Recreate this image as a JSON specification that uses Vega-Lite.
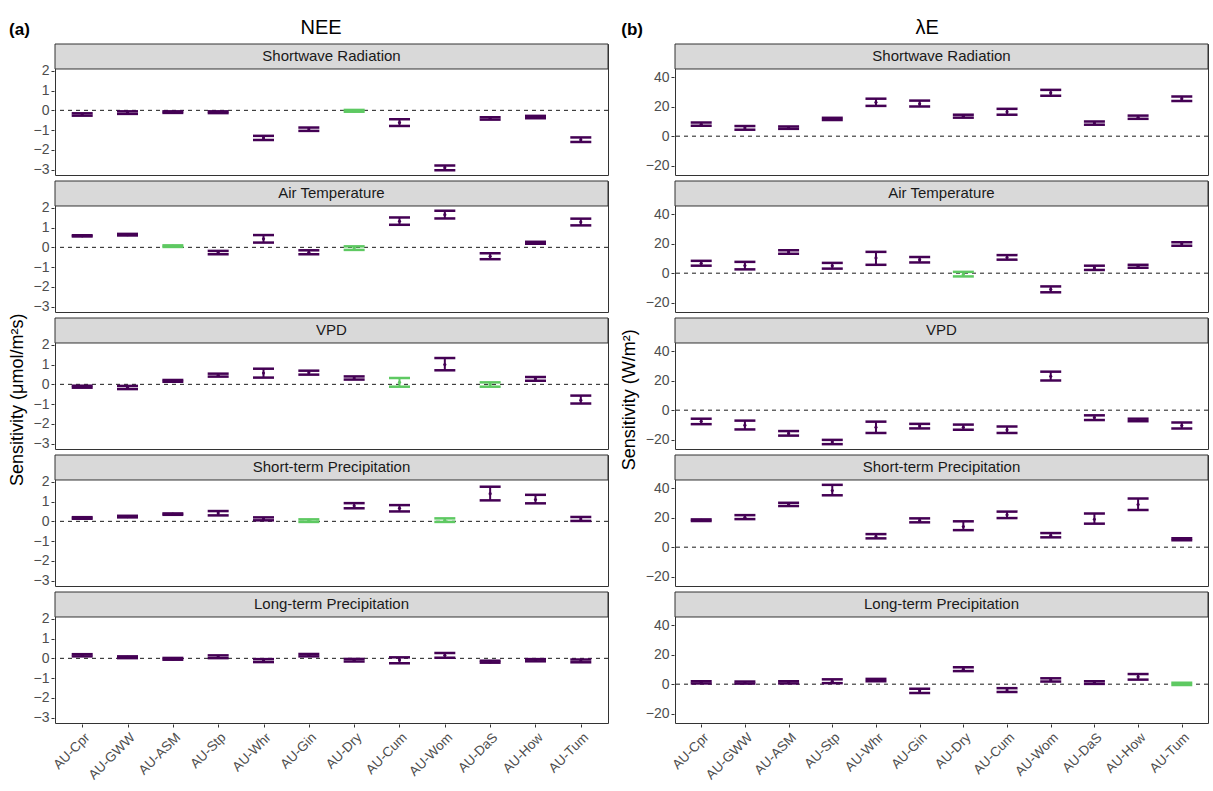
{
"$schema": "https://vega.github.io/schema/vega-lite/v6.json",
"padding": {"left": 9, "top": 18, "right": 2, "bottom": 2},
"background": "white",
"config": {
 "font": "Liberation Sans",
 "view": {"stroke": "#333333", "strokeWidth": 1},
 "axis": {"grid": false, "domain": false, "tickColor": "#333333", "tickSize": 3, "labelColor": "#4d4d4d", "labelFont": "Liberation Sans", "titleFont": "Liberation Sans", "titleFontWeight": "normal", "titleColor": "#000000", "titleFontSize": 18},
 "axisY": {"labelFontSize": 14, "labelPadding": 2},
 "axisX": {"labelFontSize": 13.5, "labelAngle": -45, "labelAlign": "right", "labelBaseline": "top", "labelPadding": 3},
 "title": {"font": "Liberation Sans", "color": "#000000"}
},
"datasets": {
"labels": [
{"d":"SW","lab":"Shortwave Radiation"},
{"d":"AT","lab":"Air Temperature"},
{"d":"VPD","lab":"VPD"},
{"d":"STP","lab":"Short-term Precipitation"},
{"d":"LTP","lab":"Long-term Precipitation"}
],
"sens": [
{"f":"NEE","d":"SW","s":"AU-Cpr","m":-0.21,"lo":-0.27,"hi":-0.15,"g":"sig"},
{"f":"NEE","d":"SW","s":"AU-GWW","m":-0.12,"lo":-0.18,"hi":-0.05,"g":"sig"},
{"f":"NEE","d":"SW","s":"AU-ASM","m":-0.09,"lo":-0.13,"hi":-0.05,"g":"sig"},
{"f":"NEE","d":"SW","s":"AU-Stp","m":-0.10,"lo":-0.14,"hi":-0.05,"g":"sig"},
{"f":"NEE","d":"SW","s":"AU-Whr","m":-1.40,"lo":-1.50,"hi":-1.29,"g":"sig"},
{"f":"NEE","d":"SW","s":"AU-Gin","m":-0.95,"lo":-1.04,"hi":-0.87,"g":"sig"},
{"f":"NEE","d":"SW","s":"AU-Dry","m":-0.03,"lo":-0.07,"hi":0.02,"g":"ns"},
{"f":"NEE","d":"SW","s":"AU-Cum","m":-0.62,"lo":-0.79,"hi":-0.45,"g":"sig"},
{"f":"NEE","d":"SW","s":"AU-Wom","m":-2.90,"lo":-3.03,"hi":-2.79,"g":"sig"},
{"f":"NEE","d":"SW","s":"AU-DaS","m":-0.41,"lo":-0.47,"hi":-0.35,"g":"sig"},
{"f":"NEE","d":"SW","s":"AU-How","m":-0.34,"lo":-0.40,"hi":-0.28,"g":"sig"},
{"f":"NEE","d":"SW","s":"AU-Tum","m":-1.49,"lo":-1.60,"hi":-1.37,"g":"sig"},
{"f":"NEE","d":"AT","s":"AU-Cpr","m":0.58,"lo":0.55,"hi":0.61,"g":"sig"},
{"f":"NEE","d":"AT","s":"AU-GWW","m":0.64,"lo":0.60,"hi":0.68,"g":"sig"},
{"f":"NEE","d":"AT","s":"AU-ASM","m":0.06,"lo":0.02,"hi":0.10,"g":"ns"},
{"f":"NEE","d":"AT","s":"AU-Stp","m":-0.26,"lo":-0.35,"hi":-0.18,"g":"sig"},
{"f":"NEE","d":"AT","s":"AU-Whr","m":0.43,"lo":0.24,"hi":0.62,"g":"sig"},
{"f":"NEE","d":"AT","s":"AU-Gin","m":-0.25,"lo":-0.35,"hi":-0.15,"g":"sig"},
{"f":"NEE","d":"AT","s":"AU-Dry","m":-0.04,"lo":-0.13,"hi":0.05,"g":"ns"},
{"f":"NEE","d":"AT","s":"AU-Cum","m":1.32,"lo":1.14,"hi":1.51,"g":"sig"},
{"f":"NEE","d":"AT","s":"AU-Wom","m":1.65,"lo":1.46,"hi":1.85,"g":"sig"},
{"f":"NEE","d":"AT","s":"AU-DaS","m":-0.45,"lo":-0.60,"hi":-0.30,"g":"sig"},
{"f":"NEE","d":"AT","s":"AU-How","m":0.23,"lo":0.18,"hi":0.28,"g":"sig"},
{"f":"NEE","d":"AT","s":"AU-Tum","m":1.28,"lo":1.11,"hi":1.45,"g":"sig"},
{"f":"NEE","d":"VPD","s":"AU-Cpr","m":-0.12,"lo":-0.17,"hi":-0.07,"g":"sig"},
{"f":"NEE","d":"VPD","s":"AU-GWW","m":-0.16,"lo":-0.24,"hi":-0.08,"g":"sig"},
{"f":"NEE","d":"VPD","s":"AU-ASM","m":0.17,"lo":0.13,"hi":0.22,"g":"sig"},
{"f":"NEE","d":"VPD","s":"AU-Stp","m":0.46,"lo":0.39,"hi":0.54,"g":"sig"},
{"f":"NEE","d":"VPD","s":"AU-Whr","m":0.57,"lo":0.34,"hi":0.79,"g":"sig"},
{"f":"NEE","d":"VPD","s":"AU-Gin","m":0.59,"lo":0.49,"hi":0.69,"g":"sig"},
{"f":"NEE","d":"VPD","s":"AU-Dry","m":0.32,"lo":0.24,"hi":0.40,"g":"sig"},
{"f":"NEE","d":"VPD","s":"AU-Cum","m":0.10,"lo":-0.12,"hi":0.32,"g":"ns"},
{"f":"NEE","d":"VPD","s":"AU-Wom","m":1.00,"lo":0.71,"hi":1.33,"g":"sig"},
{"f":"NEE","d":"VPD","s":"AU-DaS","m":0.00,"lo":-0.12,"hi":0.10,"g":"ns"},
{"f":"NEE","d":"VPD","s":"AU-How","m":0.28,"lo":0.18,"hi":0.37,"g":"sig"},
{"f":"NEE","d":"VPD","s":"AU-Tum","m":-0.80,"lo":-0.97,"hi":-0.57,"g":"sig"},
{"f":"NEE","d":"STP","s":"AU-Cpr","m":0.17,"lo":0.13,"hi":0.21,"g":"sig"},
{"f":"NEE","d":"STP","s":"AU-GWW","m":0.24,"lo":0.20,"hi":0.28,"g":"sig"},
{"f":"NEE","d":"STP","s":"AU-ASM","m":0.37,"lo":0.33,"hi":0.40,"g":"sig"},
{"f":"NEE","d":"STP","s":"AU-Stp","m":0.42,"lo":0.30,"hi":0.52,"g":"sig"},
{"f":"NEE","d":"STP","s":"AU-Whr","m":0.12,"lo":0.05,"hi":0.20,"g":"sig"},
{"f":"NEE","d":"STP","s":"AU-Gin","m":0.05,"lo":-0.03,"hi":0.10,"g":"ns"},
{"f":"NEE","d":"STP","s":"AU-Dry","m":0.79,"lo":0.66,"hi":0.92,"g":"sig"},
{"f":"NEE","d":"STP","s":"AU-Cum","m":0.66,"lo":0.50,"hi":0.82,"g":"sig"},
{"f":"NEE","d":"STP","s":"AU-Wom","m":0.06,"lo":-0.03,"hi":0.15,"g":"ns"},
{"f":"NEE","d":"STP","s":"AU-DaS","m":1.40,"lo":1.06,"hi":1.75,"g":"sig"},
{"f":"NEE","d":"STP","s":"AU-How","m":1.10,"lo":0.91,"hi":1.34,"g":"sig"},
{"f":"NEE","d":"STP","s":"AU-Tum","m":0.12,"lo":0.02,"hi":0.22,"g":"sig"},
{"f":"NEE","d":"LTP","s":"AU-Cpr","m":0.15,"lo":0.10,"hi":0.21,"g":"sig"},
{"f":"NEE","d":"LTP","s":"AU-GWW","m":0.05,"lo":0.01,"hi":0.10,"g":"sig"},
{"f":"NEE","d":"LTP","s":"AU-ASM","m":-0.03,"lo":-0.07,"hi":0.02,"g":"sig"},
{"f":"NEE","d":"LTP","s":"AU-Stp","m":0.08,"lo":0.01,"hi":0.15,"g":"sig"},
{"f":"NEE","d":"LTP","s":"AU-Whr","m":-0.12,"lo":-0.19,"hi":-0.04,"g":"sig"},
{"f":"NEE","d":"LTP","s":"AU-Gin","m":0.16,"lo":0.10,"hi":0.22,"g":"sig"},
{"f":"NEE","d":"LTP","s":"AU-Dry","m":-0.10,"lo":-0.16,"hi":-0.03,"g":"sig"},
{"f":"NEE","d":"LTP","s":"AU-Cum","m":-0.08,"lo":-0.25,"hi":0.05,"g":"sig"},
{"f":"NEE","d":"LTP","s":"AU-Wom","m":0.15,"lo":0.03,"hi":0.27,"g":"sig"},
{"f":"NEE","d":"LTP","s":"AU-DaS","m":-0.18,"lo":-0.22,"hi":-0.12,"g":"sig"},
{"f":"NEE","d":"LTP","s":"AU-How","m":-0.10,"lo":-0.15,"hi":-0.04,"g":"sig"},
{"f":"NEE","d":"LTP","s":"AU-Tum","m":-0.13,"lo":-0.20,"hi":-0.06,"g":"sig"},
{"f":"LE","d":"SW","s":"AU-Cpr","m":8.2,"lo":7.1,"hi":9.3,"g":"sig"},
{"f":"LE","d":"SW","s":"AU-GWW","m":5.6,"lo":4.4,"hi":6.9,"g":"sig"},
{"f":"LE","d":"SW","s":"AU-ASM","m":5.8,"lo":5.0,"hi":6.6,"g":"sig"},
{"f":"LE","d":"SW","s":"AU-Stp","m":11.8,"lo":11.0,"hi":12.5,"g":"sig"},
{"f":"LE","d":"SW","s":"AU-Whr","m":23.0,"lo":20.6,"hi":25.5,"g":"sig"},
{"f":"LE","d":"SW","s":"AU-Gin","m":22.0,"lo":20.2,"hi":24.2,"g":"sig"},
{"f":"LE","d":"SW","s":"AU-Dry","m":13.6,"lo":12.6,"hi":14.6,"g":"sig"},
{"f":"LE","d":"SW","s":"AU-Cum","m":16.6,"lo":14.6,"hi":18.6,"g":"sig"},
{"f":"LE","d":"SW","s":"AU-Wom","m":29.5,"lo":27.5,"hi":31.5,"g":"sig"},
{"f":"LE","d":"SW","s":"AU-DaS","m":8.9,"lo":7.8,"hi":10.0,"g":"sig"},
{"f":"LE","d":"SW","s":"AU-How","m":12.9,"lo":11.8,"hi":14.0,"g":"sig"},
{"f":"LE","d":"SW","s":"AU-Tum","m":25.5,"lo":24.0,"hi":27.0,"g":"sig"},
{"f":"LE","d":"AT","s":"AU-Cpr","m":6.7,"lo":5.1,"hi":8.4,"g":"sig"},
{"f":"LE","d":"AT","s":"AU-GWW","m":5.2,"lo":2.6,"hi":7.7,"g":"sig"},
{"f":"LE","d":"AT","s":"AU-ASM","m":14.4,"lo":13.2,"hi":15.6,"g":"sig"},
{"f":"LE","d":"AT","s":"AU-Stp","m":5.0,"lo":3.1,"hi":7.0,"g":"sig"},
{"f":"LE","d":"AT","s":"AU-Whr","m":10.4,"lo":5.7,"hi":14.5,"g":"sig"},
{"f":"LE","d":"AT","s":"AU-Gin","m":9.2,"lo":7.3,"hi":11.0,"g":"sig"},
{"f":"LE","d":"AT","s":"AU-Dry","m":-0.8,"lo":-2.2,"hi":0.9,"g":"ns"},
{"f":"LE","d":"AT","s":"AU-Cum","m":10.7,"lo":9.2,"hi":12.3,"g":"sig"},
{"f":"LE","d":"AT","s":"AU-Wom","m":-11.0,"lo":-13.0,"hi":-9.0,"g":"sig"},
{"f":"LE","d":"AT","s":"AU-DaS","m":3.6,"lo":2.2,"hi":5.1,"g":"sig"},
{"f":"LE","d":"AT","s":"AU-How","m":4.7,"lo":3.7,"hi":5.7,"g":"sig"},
{"f":"LE","d":"AT","s":"AU-Tum","m":20.0,"lo":18.7,"hi":21.1,"g":"sig"},
{"f":"LE","d":"VPD","s":"AU-Cpr","m":-7.6,"lo":-9.5,"hi":-5.8,"g":"sig"},
{"f":"LE","d":"VPD","s":"AU-GWW","m":-10.2,"lo":-13.1,"hi":-7.1,"g":"sig"},
{"f":"LE","d":"VPD","s":"AU-ASM","m":-15.8,"lo":-17.3,"hi":-14.2,"g":"sig"},
{"f":"LE","d":"VPD","s":"AU-Stp","m":-21.6,"lo":-23.1,"hi":-20.2,"g":"sig"},
{"f":"LE","d":"VPD","s":"AU-Whr","m":-11.6,"lo":-15.5,"hi":-7.8,"g":"sig"},
{"f":"LE","d":"VPD","s":"AU-Gin","m":-10.8,"lo":-12.4,"hi":-9.3,"g":"sig"},
{"f":"LE","d":"VPD","s":"AU-Dry","m":-11.6,"lo":-13.3,"hi":-9.8,"g":"sig"},
{"f":"LE","d":"VPD","s":"AU-Cum","m":-13.3,"lo":-15.5,"hi":-11.1,"g":"sig"},
{"f":"LE","d":"VPD","s":"AU-Wom","m":23.0,"lo":20.2,"hi":26.2,"g":"sig"},
{"f":"LE","d":"VPD","s":"AU-DaS","m":-5.0,"lo":-6.7,"hi":-3.5,"g":"sig"},
{"f":"LE","d":"VPD","s":"AU-How","m":-6.6,"lo":-7.5,"hi":-5.8,"g":"sig"},
{"f":"LE","d":"VPD","s":"AU-Tum","m":-10.4,"lo":-12.4,"hi":-8.4,"g":"sig"},
{"f":"LE","d":"STP","s":"AU-Cpr","m":18.2,"lo":17.8,"hi":18.9,"g":"sig"},
{"f":"LE","d":"STP","s":"AU-GWW","m":20.3,"lo":19.1,"hi":21.8,"g":"sig"},
{"f":"LE","d":"STP","s":"AU-ASM","m":29.0,"lo":28.0,"hi":30.2,"g":"sig"},
{"f":"LE","d":"STP","s":"AU-Stp","m":38.5,"lo":35.3,"hi":42.4,"g":"sig"},
{"f":"LE","d":"STP","s":"AU-Whr","m":7.3,"lo":6.0,"hi":8.9,"g":"sig"},
{"f":"LE","d":"STP","s":"AU-Gin","m":18.2,"lo":16.9,"hi":19.6,"g":"sig"},
{"f":"LE","d":"STP","s":"AU-Dry","m":14.0,"lo":11.6,"hi":17.6,"g":"sig"},
{"f":"LE","d":"STP","s":"AU-Cum","m":22.0,"lo":19.8,"hi":24.2,"g":"sig"},
{"f":"LE","d":"STP","s":"AU-Wom","m":8.0,"lo":6.7,"hi":9.6,"g":"sig"},
{"f":"LE","d":"STP","s":"AU-DaS","m":19.0,"lo":16.0,"hi":22.9,"g":"sig"},
{"f":"LE","d":"STP","s":"AU-How","m":29.0,"lo":25.3,"hi":33.1,"g":"sig"},
{"f":"LE","d":"STP","s":"AU-Tum","m":5.4,"lo":4.7,"hi":6.0,"g":"sig"},
{"f":"LE","d":"LTP","s":"AU-Cpr","m":1.2,"lo":0.5,"hi":2.0,"g":"sig"},
{"f":"LE","d":"LTP","s":"AU-GWW","m":1.0,"lo":0.4,"hi":1.8,"g":"sig"},
{"f":"LE","d":"LTP","s":"AU-ASM","m":1.2,"lo":0.5,"hi":2.0,"g":"sig"},
{"f":"LE","d":"LTP","s":"AU-Stp","m":2.0,"lo":0.7,"hi":3.3,"g":"sig"},
{"f":"LE","d":"LTP","s":"AU-Whr","m":2.8,"lo":2.0,"hi":3.6,"g":"sig"},
{"f":"LE","d":"LTP","s":"AU-Gin","m":-4.5,"lo":-6.0,"hi":-3.1,"g":"sig"},
{"f":"LE","d":"LTP","s":"AU-Dry","m":10.2,"lo":8.9,"hi":11.5,"g":"sig"},
{"f":"LE","d":"LTP","s":"AU-Cum","m":-4.0,"lo":-5.3,"hi":-2.7,"g":"sig"},
{"f":"LE","d":"LTP","s":"AU-Wom","m":2.9,"lo":1.8,"hi":4.0,"g":"sig"},
{"f":"LE","d":"LTP","s":"AU-DaS","m":1.2,"lo":0.2,"hi":2.0,"g":"sig"},
{"f":"LE","d":"LTP","s":"AU-How","m":5.0,"lo":3.1,"hi":6.9,"g":"sig"},
{"f":"LE","d":"LTP","s":"AU-Tum","m":0.2,"lo":-0.6,"hi":0.9,"g":"ns"}
]},
"spacing": 12,
"hconcat": [
{
 "title": {"text": "(a)", "anchor": "start", "frame": "bounds", "fontSize": 17, "fontWeight": "bold", "offset": -21},
 "vconcat": [
 {
  "title": {"text": "Sensitivity (μmol/m²s)", "orient": "left", "anchor": "middle", "fontSize": 18, "fontWeight": "normal", "offset": 6},
  "vconcat": [
  {
   "title": {"text": "NEE", "fontSize": 20, "fontWeight": "normal", "anchor": "middle", "offset": 5},
   "data": {"name": "sens"},
   "transform": [{"filter": "datum.f === 'NEE'"}, {"lookup": "d", "from": {"data": {"name": "labels"}, "key": "d", "fields": ["lab"]}}],
   "facet": {"row": {"field": "d", "type": "nominal", "sort": ["SW", "AT", "VPD", "STP", "LTP"], "header": {"title": null, "labels": false}}},
   "spacing": {"row": 4},
   "spec": {
    "width": 553, "height": 131,
    "layer": [
     {"transform": [{"aggregate": [{"op": "count", "as": "n"}], "groupby": ["d", "lab"]}], "mark": {"type": "rect", "fill": "#d9d9d9", "stroke": "#333333", "strokeWidth": 1}, "encoding": {"y": {"datum": 2.09, "type": "quantitative", "scale": {"domain": [-3.27, 3.354], "nice": false, "zero": false}, "axis": {"values": [-3, -2, -1, 0, 1, 2], "title": null}}, "y2": {"datum": 3.354}}},
     {"transform": [{"aggregate": [{"op": "count", "as": "n"}], "groupby": ["d", "lab"]}], "mark": {"type": "text", "fontSize": 15, "color": "#1a1a1a", "baseline": "middle"}, "encoding": {"y": {"datum": 2.722, "type": "quantitative", "axis": {"values": [-3, -2, -1, 0, 1, 2], "title": null}}, "text": {"field": "lab"}}},
     {"transform": [{"aggregate": [{"op": "count", "as": "n"}], "groupby": ["d", "lab"]}], "mark": {"type": "rule", "strokeDash": [4, 4], "color": "#1a1a1a", "strokeWidth": 1}, "encoding": {"y": {"datum": 0, "type": "quantitative", "axis": {"values": [-3, -2, -1, 0, 1, 2], "title": null}}}},
     {"mark": {"type": "rule", "strokeWidth": 2}, "encoding": {"x": {"field": "s", "type": "nominal", "sort": ["AU-Cpr","AU-GWW","AU-ASM","AU-Stp","AU-Whr","AU-Gin","AU-Dry","AU-Cum","AU-Wom","AU-DaS","AU-How","AU-Tum"], "scale": {"type": "point", "padding": 0.6}, "axis": {"title": null}}, "y": {"field": "lo", "type": "quantitative", "axis": {"values": [-3, -2, -1, 0, 1, 2], "title": null}}, "y2": {"field": "hi"}, "color": {"field": "g", "type": "nominal", "scale": {"domain": ["sig", "ns"], "range": ["#440154", "#5ec962"]}, "legend": null}}},
     {"transform": [{"fold": ["lo", "hi"], "as": ["k", "v"]}], "mark": {"type": "tick", "thickness": 2.5, "size": 21, "opacity": 1}, "encoding": {"x": {"field": "s", "type": "nominal", "sort": ["AU-Cpr","AU-GWW","AU-ASM","AU-Stp","AU-Whr","AU-Gin","AU-Dry","AU-Cum","AU-Wom","AU-DaS","AU-How","AU-Tum"], "scale": {"type": "point", "padding": 0.6}, "axis": {"title": null}}, "y": {"field": "v", "type": "quantitative", "axis": {"values": [-3, -2, -1, 0, 1, 2], "title": null}}, "color": {"field": "g", "type": "nominal", "scale": {"domain": ["sig", "ns"], "range": ["#440154", "#5ec962"]}, "legend": null}}},
     {"mark": {"type": "point", "filled": true, "size": 10, "opacity": 1}, "encoding": {"x": {"field": "s", "type": "nominal", "sort": ["AU-Cpr","AU-GWW","AU-ASM","AU-Stp","AU-Whr","AU-Gin","AU-Dry","AU-Cum","AU-Wom","AU-DaS","AU-How","AU-Tum"], "scale": {"type": "point", "padding": 0.6}, "axis": {"title": null}}, "y": {"field": "m", "type": "quantitative", "axis": {"values": [-3, -2, -1, 0, 1, 2], "title": null}}, "color": {"field": "g", "type": "nominal", "scale": {"domain": ["sig", "ns"], "range": ["#440154", "#5ec962"]}, "legend": null}}}
    ]
   }
  }
  ]
 }
 ]
},
{
 "title": {"text": "(b)", "anchor": "start", "frame": "bounds", "fontSize": 17, "fontWeight": "bold", "offset": -21},
 "vconcat": [
 {
  "title": {"text": "Sensitivity (W/m²)", "orient": "left", "anchor": "middle", "fontSize": 18, "fontWeight": "normal", "offset": 6},
  "vconcat": [
  {
   "title": {"text": "λE", "fontSize": 20, "fontWeight": "normal", "anchor": "middle", "offset": 5},
   "data": {"name": "sens"},
   "transform": [{"filter": "datum.f === 'LE'"}, {"lookup": "d", "from": {"data": {"name": "labels"}, "key": "d", "fields": ["lab"]}}],
   "facet": {"row": {"field": "d", "type": "nominal", "sort": ["SW", "AT", "VPD", "STP", "LTP"], "header": {"title": null, "labels": false}}},
   "spacing": {"row": 4},
   "spec": {
    "width": 533, "height": 131,
    "layer": [
     {"transform": [{"aggregate": [{"op": "count", "as": "n"}], "groupby": ["d", "lab"]}], "mark": {"type": "rect", "fill": "#d9d9d9", "stroke": "#333333", "strokeWidth": 1}, "encoding": {"y": {"datum": 45.7, "type": "quantitative", "scale": {"domain": [-26.4, 62.7], "nice": false, "zero": false}, "axis": {"values": [-20, 0, 20, 40], "title": null}}, "y2": {"datum": 62.7}}},
     {"transform": [{"aggregate": [{"op": "count", "as": "n"}], "groupby": ["d", "lab"]}], "mark": {"type": "text", "fontSize": 15, "color": "#1a1a1a", "baseline": "middle"}, "encoding": {"y": {"datum": 54.2, "type": "quantitative", "axis": {"values": [-20, 0, 20, 40], "title": null}}, "text": {"field": "lab"}}},
     {"transform": [{"aggregate": [{"op": "count", "as": "n"}], "groupby": ["d", "lab"]}], "mark": {"type": "rule", "strokeDash": [4, 4], "color": "#1a1a1a", "strokeWidth": 1}, "encoding": {"y": {"datum": 0, "type": "quantitative", "axis": {"values": [-20, 0, 20, 40], "title": null}}}},
     {"mark": {"type": "rule", "strokeWidth": 2}, "encoding": {"x": {"field": "s", "type": "nominal", "sort": ["AU-Cpr","AU-GWW","AU-ASM","AU-Stp","AU-Whr","AU-Gin","AU-Dry","AU-Cum","AU-Wom","AU-DaS","AU-How","AU-Tum"], "scale": {"type": "point", "padding": 0.6}, "axis": {"title": null}}, "y": {"field": "lo", "type": "quantitative", "axis": {"values": [-20, 0, 20, 40], "title": null}}, "y2": {"field": "hi"}, "color": {"field": "g", "type": "nominal", "scale": {"domain": ["sig", "ns"], "range": ["#440154", "#5ec962"]}, "legend": null}}},
     {"transform": [{"fold": ["lo", "hi"], "as": ["k", "v"]}], "mark": {"type": "tick", "thickness": 2.5, "size": 21, "opacity": 1}, "encoding": {"x": {"field": "s", "type": "nominal", "sort": ["AU-Cpr","AU-GWW","AU-ASM","AU-Stp","AU-Whr","AU-Gin","AU-Dry","AU-Cum","AU-Wom","AU-DaS","AU-How","AU-Tum"], "scale": {"type": "point", "padding": 0.6}, "axis": {"title": null}}, "y": {"field": "v", "type": "quantitative", "axis": {"values": [-20, 0, 20, 40], "title": null}}, "color": {"field": "g", "type": "nominal", "scale": {"domain": ["sig", "ns"], "range": ["#440154", "#5ec962"]}, "legend": null}}},
     {"mark": {"type": "point", "filled": true, "size": 10, "opacity": 1}, "encoding": {"x": {"field": "s", "type": "nominal", "sort": ["AU-Cpr","AU-GWW","AU-ASM","AU-Stp","AU-Whr","AU-Gin","AU-Dry","AU-Cum","AU-Wom","AU-DaS","AU-How","AU-Tum"], "scale": {"type": "point", "padding": 0.6}, "axis": {"title": null}}, "y": {"field": "m", "type": "quantitative", "axis": {"values": [-20, 0, 20, 40], "title": null}}, "color": {"field": "g", "type": "nominal", "scale": {"domain": ["sig", "ns"], "range": ["#440154", "#5ec962"]}, "legend": null}}}
    ]
   }
  }
  ]
 }
 ]
}
]
}
